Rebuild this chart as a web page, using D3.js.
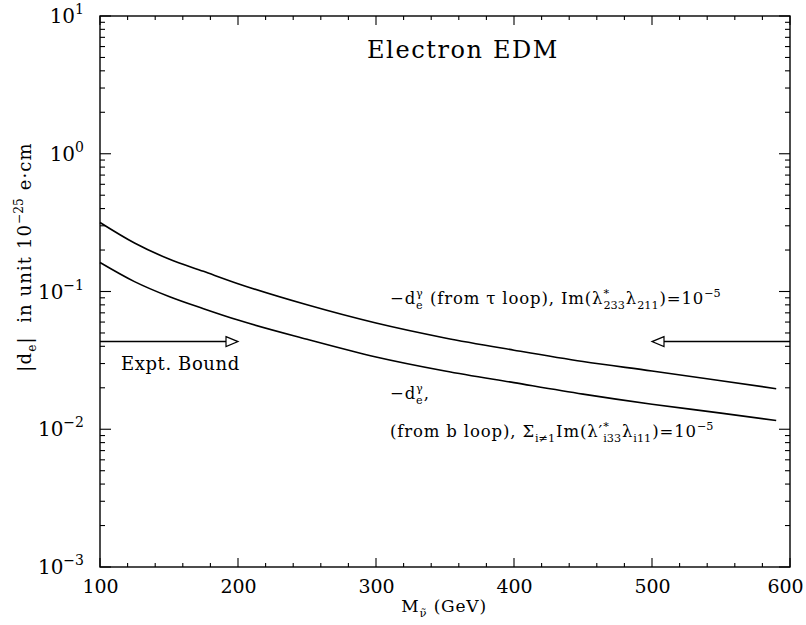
<!DOCTYPE html>
<html><head><meta charset="utf-8">
<script src="https://cdn.jsdelivr.net/npm/d3@7"></script>
<style>body{margin:0;background:#fff}svg{display:block}text{font-family:"DejaVu Serif",serif;fill:#000;white-space:pre}</style>
</head><body>
<svg id="c" width="806" height="625"></svg>
<script>
// Data
const masses = [100,125,150,175,200,250,300,350,400,450,500,550,590];
const tauLoop = [0.317,0.225,0.172,0.140,0.114,0.080,0.059,0.046,0.0375,0.031,0.0265,0.0225,0.0197];
const bLoop   = [0.1625,0.118,0.092,0.075,0.062,0.045,0.0335,0.0265,0.0218,0.0180,0.0152,0.0131,0.01157];
const xTicks = [100,200,300,400,500,600];
const yExponents = [1,0,-1,-2,-3];
const exptBound = 0.0433;
const leftArrowEnd = 200, rightArrowEnd = 500;

const svg = d3.select("#c");
const L=100,R=790,T=16,B=567;
const x = d3.scaleLinear().domain([100,600]).range([L,R]);
const y = d3.scaleLog().domain([1e-3,10]).range([B,T]);

// frame
svg.append("rect").attr("x",L).attr("y",T).attr("width",R-L).attr("height",B-T)
  .attr("fill","none").attr("stroke","#000").attr("stroke-width",1.4);

// ticks
const xMinor = d3.range(100,601,20);
const yMinor = [];
for(let e=-3;e<1;e++) for(let k=2;k<=9;k++) yMinor.push(k*Math.pow(10,e));
const tk = svg.append("g").attr("stroke","#000").attr("stroke-width",1.1);
xMinor.forEach(v=>{
  const len = xTicks.includes(v)?9:4;
  tk.append("line").attr("x1",x(v)).attr("x2",x(v)).attr("y1",B).attr("y2",B-len);
  tk.append("line").attr("x1",x(v)).attr("x2",x(v)).attr("y1",T).attr("y2",T+len);
});
yMinor.concat(yExponents.map(e=>Math.pow(10,e))).forEach(v=>{
  const major = Math.abs(Math.log10(v)-Math.round(Math.log10(v)))<1e-9;
  const len = major?11:5;
  tk.append("line").attr("x1",L).attr("x2",L+len).attr("y1",y(v)).attr("y2",y(v));
  tk.append("line").attr("x1",R).attr("x2",R-len).attr("y1",y(v)).attr("y2",y(v));
});

// x tick labels via d3 axis
const xAxis = d3.axisBottom(x).tickValues(xTicks).tickSize(0).tickPadding(0);
const gx = svg.append("g").attr("transform",`translate(0,${B})`).call(xAxis);
gx.select(".domain").remove();
gx.selectAll("text").attr("font-size",19).attr("font-family","DejaVu Serif").attr("dy",null).attr("y",26).attr("fill","#000")
  .attr("dx",d=>d===600?-5:0);

// y tick labels
yExponents.forEach(e=>{
  const t = svg.append("text").attr("x",84).attr("y",y(Math.pow(10,e))+7).attr("text-anchor","end").attr("font-size",20);
  t.append("tspan").text("10");
  t.append("tspan").attr("dy",-9).attr("font-size",14).text(e<0?"\u2212"+(-e):String(e));
});

// rich text helper
function rich(parent, x0, y0, segs, fs, anchor, ls){
  const g = parent.append("g");
  let cx = 0;
  const small = fs*0.68;
  ls = ls||0;
  segs.forEach(s=>{
    if(typeof s==="string"){
      const t=g.append("text").attr("x",cx).attr("y",0).attr("font-size",fs).attr("letter-spacing",ls).text(s);
      cx += t.node().getComputedTextLength();
    } else {
      let w=0;
      if(s.sup!==undefined){
        const t=g.append("text").attr("x",cx).attr("y",-fs*0.42).attr("font-size",small).text(s.sup);
        w=Math.max(w,t.node().getComputedTextLength());
      }
      if(s.sub!==undefined){
        const t=g.append("text").attr("x",cx).attr("y",fs*0.28).attr("font-size",small).text(s.sub);
        w=Math.max(w,t.node().getComputedTextLength());
      }
      cx += w + 1;
    }
  });
  let dx = 0;
  if(anchor==="middle") dx=-cx/2;
  g.attr("transform",`translate(${x0+dx},${y0})`);
  return g;
}

// curves
const line = d3.line().x(d=>x(d[0])).y(d=>y(d[1])).curve(d3.curveMonotoneX);
[tauLoop,bLoop].forEach(vals=>{
  svg.append("path").datum(masses.map((m,i)=>[m,vals[i]])).attr("d",line)
    .attr("fill","none").attr("stroke","#000").attr("stroke-width",1.6);
});

// arrows (experimental bound)
const ya = y(exptBound);
const ah = 12, aw = 5;
svg.append("line").attr("x1",L).attr("x2",x(leftArrowEnd)-ah).attr("y1",ya).attr("y2",ya).attr("stroke","#000").attr("stroke-width",1.4);
svg.append("path").attr("d",`M${x(leftArrowEnd)-ah},${ya-aw}L${x(leftArrowEnd)},${ya}L${x(leftArrowEnd)-ah},${ya+aw}Z`).attr("fill","#fff").attr("stroke","#000").attr("stroke-width",1.2);
svg.append("line").attr("x1",R).attr("x2",x(rightArrowEnd)+ah).attr("y1",ya).attr("y2",ya).attr("stroke","#000").attr("stroke-width",1.4);
svg.append("path").attr("d",`M${x(rightArrowEnd)+ah},${ya-aw}L${x(rightArrowEnd)},${ya}L${x(rightArrowEnd)+ah},${ya+aw}Z`).attr("fill","#fff").attr("stroke","#000").attr("stroke-width",1.2);

// texts
svg.append("text").attr("x",463).attr("y",58).attr("text-anchor","middle").attr("font-size",24).attr("letter-spacing",1.6).text("Electron EDM");
svg.append("text").attr("x",121).attr("y",370).attr("font-size",18).attr("letter-spacing",0.6).text("Expt. Bound");

rich(svg,390,304,["\u2212d",{sup:"\u03b3",sub:"e"}," (from \u03c4 loop), Im(\u03bb",{sup:"*",sub:"233"},"\u03bb",{sub:"211"},")=10",{sup:"\u22125"}],16.5,null,0.85);
rich(svg,390,399,["\u2212d",{sup:"\u03b3",sub:"e"},","],16.5,null,0.85);
rich(svg,390,437,["(from b loop), \u03a3",{sub:"i\u22601"},"Im(\u03bb\u2032",{sup:"*",sub:"i33"},"\u03bb",{sub:"i11"},")=10",{sup:"\u22125"}],16.5,null,0.85);

// x label
rich(svg,444,612,["M",{sub:"\u03bd\u0303"}," (GeV)"],17,"middle",0.8);

// y label
const yl = svg.append("g").attr("transform","translate(31,257) rotate(-90)");
rich(yl,0,0,["|d",{sub:"e"},"|  in unit 10",{sup:"\u221225"}," e\u00b7cm"],18,"middle",1.1);
</script>
</body></html>
